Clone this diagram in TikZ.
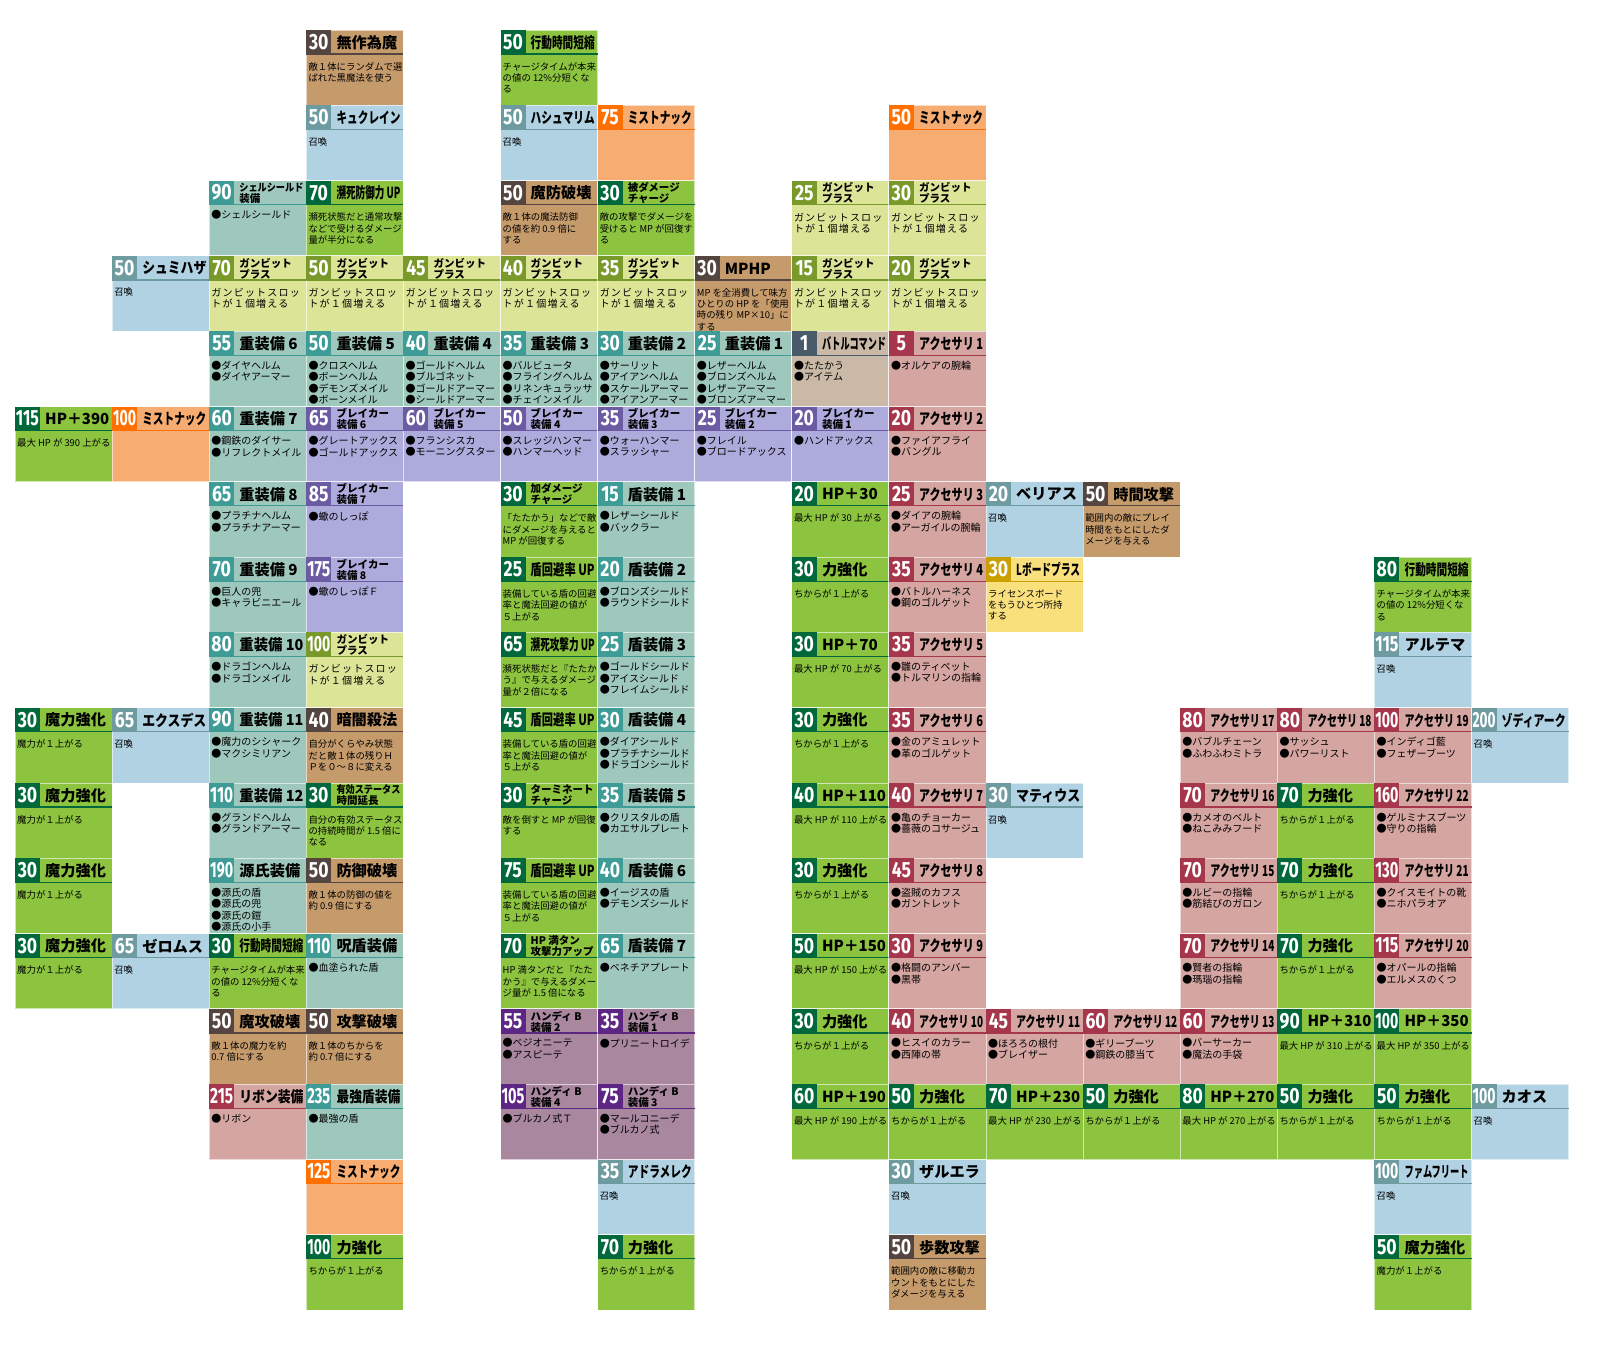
\documentclass[tikz,border=0pt]{standalone}
\usepackage{fontspec}
\usepackage{graphicx}
\newfontfamily\cjk{Noto Sans CJK JP}
\newfontfamily\cjkls[LetterSpace=12]{Noto Sans CJK JP}
\newfontfamily\numfont{Fira Sans}
\newsavebox\mybox
\newcommand\fitw[2]{\sbox\mybox{#2}\ifdim\wd\mybox>#1\resizebox{#1}{\ht\mybox}{\usebox\mybox}\else\usebox\mybox\fi}
\newcommand\numb[1]{\sbox\mybox{\numfont\bfseries\fontsize{22}{22}\selectfont #1}\ifdim0.8\wd\mybox>23pt\resizebox{23pt}{\ht\mybox}{\usebox\mybox}\else\scalebox{0.8}[1]{\usebox\mybox}\fi}
\newcommand\one[1]{\fitw{64pt}{\cjk\bfseries\fontsize{15.2}{15.2}\selectfont #1}}
\newcommand\two[2]{\fitw{64pt}{\cjk\bfseries\fontsize{10.5}{10.5}\selectfont #1}\\\fitw{64pt}{\cjk\bfseries\fontsize{10.5}{10.5}\selectfont #2}}
\definecolor{Tb}{HTML}{9FC8BC}\definecolor{Td}{HTML}{3E9B96}
\definecolor{Sb}{HTML}{B0D2E3}\definecolor{Sd}{HTML}{6E9BA0}
\definecolor{Yb}{HTML}{DCE597}\definecolor{Yd}{HTML}{7A992B}
\definecolor{Gb}{HTML}{8CC43F}\definecolor{Gd}{HTML}{00683A}
\definecolor{Rb}{HTML}{C69B6C}\definecolor{Rd}{HTML}{544540}
\definecolor{Mb}{HTML}{F7AC72}\definecolor{Md}{HTML}{FF7000}
\definecolor{Ab}{HTML}{D4A5A1}\definecolor{Ad}{HTML}{A5364B}
\definecolor{Vb}{HTML}{ADAADC}\definecolor{Vd}{HTML}{6B5BA3}
\definecolor{Hb}{HTML}{A8879F}\definecolor{Hd}{HTML}{5D2584}
\definecolor{Lb}{HTML}{FADF7D}\definecolor{Ld}{HTML}{C9A000}
\definecolor{Cb}{HTML}{C9B9A6}\definecolor{Cd}{HTML}{495A69}
\tikzset{
 cellbg/.style={anchor=north west, minimum width=97.1pt, minimum height=75.3pt, inner sep=0pt, outer sep=0pt, draw=white, draw opacity=0.6, line width=1pt},
 numbox/.style={anchor=north west, minimum width=25pt, minimum height=24pt, inner sep=0pt, outer sep=0pt, text=white},
 ttl/.style={anchor=west, inner sep=0pt, align=left, font=\cjk\fontsize{10.5}{11}\selectfont},
 bodytext/.style={anchor=north west, inner sep=0pt, align=left},
 bulletbody/.style={bodytext, font=\cjk\fontsize{10}{11.4}\selectfont, yshift=-29.5pt},
 descbody/.style={bodytext, font=\cjk\fontsize{9.4}{11.4}\selectfont, yshift=-32pt},
 gambitbody/.style={bodytext, font=\cjkls\fontsize{10}{11.4}\selectfont, yshift=-32pt},
 bodyT/.style={bulletbody}, bodyA/.style={bulletbody}, bodyV/.style={bulletbody},
 bodyH/.style={bulletbody}, bodyC/.style={bulletbody},
 bodyS/.style={descbody}, bodyG/.style={descbody}, bodyR/.style={descbody},
 bodyM/.style={descbody}, bodyL/.style={descbody}, bodyY/.style={gambitbody},
}
\newcommand\CellBase[6]{%
 \pgfmathsetmacro\cellx{15+97.1*#1}%
 \pgfmathsetmacro\celly{30+75.3*#2}%
 \node[cellbg, fill=#3b] (cell-#1-#2) at (\cellx,\celly) {};
 \draw[#3d, line width=1.2pt] ([yshift=-24pt]cell-#1-#2.north west) -- ([yshift=-24pt]cell-#1-#2.north east);
 \node[numbox, fill=#3d] (num-#1-#2) at (cell-#1-#2.north west) {\numb{#4}};
 \node[ttl] (ttl-#1-#2) at ([xshift=30pt,yshift=-12.5pt]cell-#1-#2.north west) {#5};
 \node[body#3] (body-#1-#2) at ([xshift=2pt]cell-#1-#2.north west) {#6};
}
\newcommand\Cell[6]{\CellBase{#1}{#2}{#3}{#4}{\one{#5}}{#6}}
\newcommand\CellT[7]{\CellBase{#1}{#2}{#3}{#4}{\two{#5}{#6}}{#7}}
\newcommand\strtxt{ちからが１上がる}
\newcommand\magtxt{魔力が１上がる}
\newcommand\gbtxt{ガンビットスロッ\\トが１個増える}
\newcommand\shieldtxt{装備している盾の回避\\率と魔法回避の値が\\５上がる}
\newcommand\ctimetxt{チャージタイムが本来\\の値の 12\%分短くな\\る}
\begin{document}
\begin{tikzpicture}[x=1pt,y=-1pt]
\useasboundingbox (0,0) rectangle (1600,1355);
\fill[white] (0,0) rectangle (1600,1355);
% row 0
\Cell{3}{0}{R}{30}{無作為魔}{敵１体にランダムで選\\ばれた黒魔法を使う}
\Cell{5}{0}{G}{50}{行動時間短縮}{\ctimetxt}
% row 1
\Cell{3}{1}{S}{50}{キュクレイン}{召喚}
\Cell{5}{1}{S}{50}{ハシュマリム}{召喚}
\Cell{6}{1}{M}{75}{ミストナック}{}
\Cell{9}{1}{M}{50}{ミストナック}{}
% row 2
\CellT{2}{2}{T}{90}{シェルシールド}{装備}{●シェルシールド}
\Cell{3}{2}{G}{70}{瀕死防御力 UP}{瀕死状態だと通常攻撃\\などで受けるダメージ\\量が半分になる}
\Cell{5}{2}{R}{50}{魔防破壊}{敵１体の魔法防御\\の値を約 0.9 倍に\\する}
\CellT{6}{2}{G}{30}{被ダメージ}{チャージ}{敵の攻撃でダメージを\\受けると MP が回復す\\る}
\CellT{8}{2}{Y}{25}{ガンビット}{プラス}{\gbtxt}
\CellT{9}{2}{Y}{30}{ガンビット}{プラス}{\gbtxt}
% row 3
\Cell{1}{3}{S}{50}{シュミハザ}{召喚}
\CellT{2}{3}{Y}{70}{ガンビット}{プラス}{\gbtxt}
\CellT{3}{3}{Y}{50}{ガンビット}{プラス}{\gbtxt}
\CellT{4}{3}{Y}{45}{ガンビット}{プラス}{\gbtxt}
\CellT{5}{3}{Y}{40}{ガンビット}{プラス}{\gbtxt}
\CellT{6}{3}{Y}{35}{ガンビット}{プラス}{\gbtxt}
\Cell{7}{3}{R}{30}{MPHP}{MP を全消費して味方\\ひとりの HP を「使用\\時の残り MP×10」に\\する}
\CellT{8}{3}{Y}{15}{ガンビット}{プラス}{\gbtxt}
\CellT{9}{3}{Y}{20}{ガンビット}{プラス}{\gbtxt}
% row 4
\Cell{2}{4}{T}{55}{重装備 6}{●ダイヤヘルム\\●ダイヤアーマー}
\Cell{3}{4}{T}{50}{重装備 5}{●クロスヘルム\\●ボーンヘルム\\●デモンズメイル\\●ボーンメイル}
\Cell{4}{4}{T}{40}{重装備 4}{●ゴールドヘルム\\●ブルゴネット\\●ゴールドアーマー\\●シールドアーマー}
\Cell{5}{4}{T}{35}{重装備 3}{●バルビュータ\\●フライングヘルム\\●リネンキュラッサ\\●チェインメイル}
\Cell{6}{4}{T}{30}{重装備 2}{●サーリット\\●アイアンヘルム\\●スケールアーマー\\●アイアンアーマー}
\Cell{7}{4}{T}{25}{重装備 1}{●レザーヘルム\\●ブロンズヘルム\\●レザーアーマー\\●ブロンズアーマー}
\Cell{8}{4}{C}{1}{バトルコマンド}{●たたかう\\●アイテム}
\Cell{9}{4}{A}{5}{アクセサリ 1}{●オルケアの腕輪}
% row 5
\Cell{0}{5}{G}{115}{HP＋390}{最大 HP が 390 上がる}
\Cell{1}{5}{M}{100}{ミストナック}{}
\Cell{2}{5}{T}{60}{重装備 7}{●鋼鉄のダイサー\\●リフレクトメイル}
\CellT{3}{5}{V}{65}{ブレイカー}{装備 6}{●グレートアックス\\●ゴールドアックス}
\CellT{4}{5}{V}{60}{ブレイカー}{装備 5}{●フランシスカ\\●モーニングスター}
\CellT{5}{5}{V}{50}{ブレイカー}{装備 4}{●スレッジハンマー\\●ハンマーヘッド}
\CellT{6}{5}{V}{35}{ブレイカー}{装備 3}{●ウォーハンマー\\●スラッシャー}
\CellT{7}{5}{V}{25}{ブレイカー}{装備 2}{●フレイル\\●ブロードアックス}
\CellT{8}{5}{V}{20}{ブレイカー}{装備 1}{●ハンドアックス}
\Cell{9}{5}{A}{20}{アクセサリ 2}{●ファイアフライ\\●バングル}
% row 6
\Cell{2}{6}{T}{65}{重装備 8}{●プラチナヘルム\\●プラチナアーマー}
\CellT{3}{6}{V}{85}{ブレイカー}{装備 7}{●蠍のしっぽ}
\CellT{5}{6}{G}{30}{加ダメージ}{チャージ}{「たたかう」などで敵\\にダメージを与えると\\MP が回復する}
\Cell{6}{6}{T}{15}{盾装備 1}{●レザーシールド\\●バックラー}
\Cell{8}{6}{G}{20}{HP＋30}{最大 HP が 30 上がる}
\Cell{9}{6}{A}{25}{アクセサリ 3}{●ダイアの腕輪\\●アーガイルの腕輪}
\Cell{10}{6}{S}{20}{ベリアス}{召喚}
\Cell{11}{6}{R}{50}{時間攻撃}{範囲内の敵にプレイ\\時間をもとにしたダ\\メージを与える}
% row 7
\Cell{2}{7}{T}{70}{重装備 9}{●巨人の兜\\●キャラビニエール}
\CellT{3}{7}{V}{175}{ブレイカー}{装備 8}{●蠍のしっぽＦ}
\Cell{5}{7}{G}{25}{盾回避率 UP}{\shieldtxt}
\Cell{6}{7}{T}{20}{盾装備 2}{●ブロンズシールド\\●ラウンドシールド}
\Cell{8}{7}{G}{30}{力強化}{\strtxt}
\Cell{9}{7}{A}{35}{アクセサリ 4}{●バトルハーネス\\●鋼のゴルゲット}
\Cell{10}{7}{L}{30}{Lボードプラス}{ライセンスボード\\をもうひとつ所持\\する}
\Cell{14}{7}{G}{80}{行動時間短縮}{\ctimetxt}
% row 8
\Cell{2}{8}{T}{80}{重装備 10}{●ドラゴンヘルム\\●ドラゴンメイル}
\CellT{3}{8}{Y}{100}{ガンビット}{プラス}{\gbtxt}
\Cell{5}{8}{G}{65}{瀕死攻撃力 UP}{瀕死状態だと『たたか\\う』で与えるダメージ\\量が２倍になる}
\Cell{6}{8}{T}{25}{盾装備 3}{●ゴールドシールド\\●アイスシールド\\●フレイムシールド}
\Cell{8}{8}{G}{30}{HP＋70}{最大 HP が 70 上がる}
\Cell{9}{8}{A}{35}{アクセサリ 5}{●雛のティペット\\●トルマリンの指輪}
\Cell{14}{8}{S}{115}{アルテマ}{召喚}
% row 9
\Cell{0}{9}{G}{30}{魔力強化}{\magtxt}
\Cell{1}{9}{S}{65}{エクスデス}{召喚}
\Cell{2}{9}{T}{90}{重装備 11}{●魔力のシシャーク\\●マクシミリアン}
\Cell{3}{9}{R}{40}{暗闇殺法}{自分がくらやみ状態\\だと敵１体の残りＨ\\Ｐを０〜８に変える}
\Cell{5}{9}{G}{45}{盾回避率 UP}{\shieldtxt}
\Cell{6}{9}{T}{30}{盾装備 4}{●ダイアシールド\\●プラチナシールド\\●ドラゴンシールド}
\Cell{8}{9}{G}{30}{力強化}{\strtxt}
\Cell{9}{9}{A}{35}{アクセサリ 6}{●金のアミュレット\\●革のゴルゲット}
\Cell{12}{9}{A}{80}{アクセサリ 17}{●バブルチェーン\\●ふわふわミトラ}
\Cell{13}{9}{A}{80}{アクセサリ 18}{●サッシュ\\●パワーリスト}
\Cell{14}{9}{A}{100}{アクセサリ 19}{●インディゴ藍\\●フェザーブーツ}
\Cell{15}{9}{S}{200}{ゾディアーク}{召喚}
% row 10
\Cell{0}{10}{G}{30}{魔力強化}{\magtxt}
\Cell{2}{10}{T}{110}{重装備 12}{●グランドヘルム\\●グランドアーマー}
\CellT{3}{10}{G}{30}{有効ステータス}{時間延長}{自分の有効ステータス\\の持続時間が 1.5 倍に\\なる}
\CellT{5}{10}{G}{30}{ターミネート}{チャージ}{敵を倒すと MP が回復\\する}
\Cell{6}{10}{T}{35}{盾装備 5}{●クリスタルの盾\\●カエサルプレート}
\Cell{8}{10}{G}{40}{HP＋110}{最大 HP が 110 上がる}
\Cell{9}{10}{A}{40}{アクセサリ 7}{●亀のチョーカー\\●薔薇のコサージュ}
\Cell{10}{10}{S}{30}{マティウス}{召喚}
\Cell{12}{10}{A}{70}{アクセサリ 16}{●カメオのベルト\\●ねこみみフード}
\Cell{13}{10}{G}{70}{力強化}{\strtxt}
\Cell{14}{10}{A}{160}{アクセサリ 22}{●ゲルミナスブーツ\\●守りの指輪}
% row 11
\Cell{0}{11}{G}{30}{魔力強化}{\magtxt}
\Cell{2}{11}{T}{190}{源氏装備}{●源氏の盾\\●源氏の兜\\●源氏の鎧\\●源氏の小手}
\Cell{3}{11}{R}{50}{防御破壊}{敵１体の防御の値を\\約 0.9 倍にする}
\Cell{5}{11}{G}{75}{盾回避率 UP}{\shieldtxt}
\Cell{6}{11}{T}{40}{盾装備 6}{●イージスの盾\\●デモンズシールド}
\Cell{8}{11}{G}{30}{力強化}{\strtxt}
\Cell{9}{11}{A}{45}{アクセサリ 8}{●盗賊のカフス\\●ガントレット}
\Cell{12}{11}{A}{70}{アクセサリ 15}{●ルビーの指輪\\●筋結びのガロン}
\Cell{13}{11}{G}{70}{力強化}{\strtxt}
\Cell{14}{11}{A}{130}{アクセサリ 21}{●クイスモイトの靴\\●ニホパラオア}
% row 12
\Cell{0}{12}{G}{30}{魔力強化}{\magtxt}
\Cell{1}{12}{S}{65}{ゼロムス}{召喚}
\Cell{2}{12}{G}{30}{行動時間短縮}{\ctimetxt}
\Cell{3}{12}{T}{110}{呪盾装備}{●血塗られた盾}
\CellT{5}{12}{G}{70}{HP 満タン}{攻撃力アップ}{HP 満タンだと『たた\\かう』で与えるダメー\\ジ量が 1.5 倍になる}
\Cell{6}{12}{T}{65}{盾装備 7}{●ベネチアプレート}
\Cell{8}{12}{G}{50}{HP＋150}{最大 HP が 150 上がる}
\Cell{9}{12}{A}{30}{アクセサリ 9}{●格闘のアンバー\\●黒帯}
\Cell{12}{12}{A}{70}{アクセサリ 14}{●賢者の指輪\\●瑪瑙の指輪}
\Cell{13}{12}{G}{70}{力強化}{\strtxt}
\Cell{14}{12}{A}{115}{アクセサリ 20}{●オパールの指輪\\●エルメスのくつ}
% row 13
\Cell{2}{13}{R}{50}{魔攻破壊}{敵１体の魔力を約\\0.7 倍にする}
\Cell{3}{13}{R}{50}{攻撃破壊}{敵１体のちからを\\約 0.7 倍にする}
\CellT{5}{13}{H}{55}{ハンディ B}{装備 2}{●ベジオニーテ\\●アスピーテ}
\CellT{6}{13}{H}{35}{ハンディ B}{装備 1}{●プリニートロイデ}
\Cell{8}{13}{G}{30}{力強化}{\strtxt}
\Cell{9}{13}{A}{40}{アクセサリ 10}{●ヒスイのカラー\\●西陣の帯}
\Cell{10}{13}{A}{45}{アクセサリ 11}{●ほろろの根付\\●ブレイザー}
\Cell{11}{13}{A}{60}{アクセサリ 12}{●ギリーブーツ\\●鋼鉄の膝当て}
\Cell{12}{13}{A}{60}{アクセサリ 13}{●バーサーカー\\●魔法の手袋}
\Cell{13}{13}{G}{90}{HP＋310}{最大 HP が 310 上がる}
\Cell{14}{13}{G}{100}{HP＋350}{最大 HP が 350 上がる}
% row 14
\Cell{2}{14}{A}{215}{リボン装備}{●リボン}
\Cell{3}{14}{T}{235}{最強盾装備}{●最強の盾}
\CellT{5}{14}{H}{105}{ハンディ B}{装備 4}{●ブルカノ式Ｔ}
\CellT{6}{14}{H}{75}{ハンディ B}{装備 3}{●マールコニーデ\\●ブルカノ式}
\Cell{8}{14}{G}{60}{HP＋190}{最大 HP が 190 上がる}
\Cell{9}{14}{G}{50}{力強化}{\strtxt}
\Cell{10}{14}{G}{70}{HP＋230}{最大 HP が 230 上がる}
\Cell{11}{14}{G}{50}{力強化}{\strtxt}
\Cell{12}{14}{G}{80}{HP＋270}{最大 HP が 270 上がる}
\Cell{13}{14}{G}{50}{力強化}{\strtxt}
\Cell{14}{14}{G}{50}{力強化}{\strtxt}
\Cell{15}{14}{S}{100}{カオス}{召喚}
% row 15
\Cell{3}{15}{M}{125}{ミストナック}{}
\Cell{6}{15}{S}{35}{アドラメレク}{召喚}
\Cell{9}{15}{S}{30}{ザルエラ}{召喚}
\Cell{14}{15}{S}{100}{ファムフリート}{召喚}
% row 16
\Cell{3}{16}{G}{100}{力強化}{\strtxt}
\Cell{6}{16}{G}{70}{力強化}{\strtxt}
\Cell{9}{16}{R}{50}{歩数攻撃}{範囲内の敵に移動カ\\ウントをもとにした\\ダメージを与える}
\Cell{14}{16}{G}{50}{魔力強化}{\magtxt}
\end{tikzpicture}
\end{document}
